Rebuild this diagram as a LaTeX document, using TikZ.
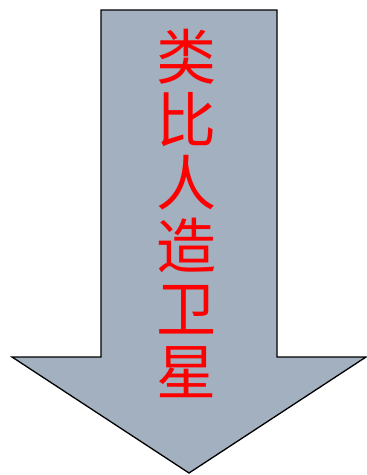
\documentclass[tikz,border=0pt]{standalone}
\usepackage{fontspec}
\newfontfamily\cjk{Noto Sans CJK SC}
\definecolor{arrowfill}{RGB}{162,176,191}
\begin{document}
\begin{tikzpicture}[x=1pt,y=-1pt,
  arrowbody/.style={draw=black,line width=1.3pt,fill=arrowfill,line join=miter},
  label/.style={text=red,font=\cjk\fontsize{60}{63}\selectfont,align=center,inner sep=0pt}]
\useasboundingbox (0,0) rectangle (367,475);
\path[arrowbody] (101,10) -- (277,10) -- (277,357) -- (366,357) -- (189,473) -- (12,357) -- (101,357) -- cycle;
\node[label] (txt) at (186,213) {类\\比\\人\\造\\卫\\星};
\end{tikzpicture}
\end{document}
